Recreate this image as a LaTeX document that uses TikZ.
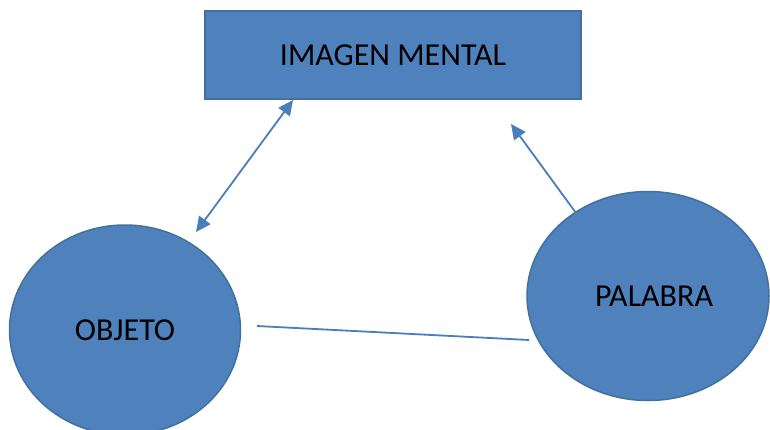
\documentclass[tikz,border=0pt]{standalone}
\usepackage{fontspec}
\setmainfont{Carlito}
\usepackage{tikz}
\usetikzlibrary{arrows.meta,shapes.geometric}
\definecolor{fillblue}{HTML}{4F81BD}
\definecolor{edgeblue}{HTML}{41719C}
\definecolor{lineblue}{HTML}{4A7EBB}
\tikzset{
  box/.style={draw=edgeblue, fill=fillblue, line width=1.5pt, inner sep=0pt,
    minimum width=376pt, minimum height=88pt, font=\fontsize{32}{38}\selectfont},
  blob/.style={ellipse, draw=edgeblue, fill=fillblue, line width=1.5pt, inner sep=0pt,
    font=\fontsize{32}{38}\selectfont},
  link/.style={draw=lineblue, line width=1.8pt},
  tip/.style={-{Triangle[length=15pt,width=14pt]}},
}
\begin{document}
\begin{tikzpicture}[x=1pt,y=-1pt]
  \useasboundingbox (0,0) rectangle (770,429);
  \clip (0,0) rectangle (770,429);

  \node[box] (img) at (393,55) {\raisebox{-3pt}{IMAGEN MENTAL}};
  \node[blob, minimum width=231pt, minimum height=210pt] (obj) at (125,330) {OBJETO};
  \node[blob, minimum width=242pt, minimum height=209pt] (pal) at (648,296) {\hspace*{12pt}PALABRA};

  \coordinate (imgL) at (293,100);
  \coordinate (imgR) at (511,124);
  \coordinate (objT) at (196,232);
  \coordinate (objR) at (257,326);
  \coordinate (palT) at (576,213);
  \coordinate (palL) at (529,340);

  \draw[link,{Triangle[length=15pt,width=14pt]}-{Triangle[length=15pt,width=14pt]}] (objT)--(imgL);
  \draw[link,tip] (palT)--(imgR);
  \draw[link] (objR)--(palL);
\end{tikzpicture}
\end{document}
